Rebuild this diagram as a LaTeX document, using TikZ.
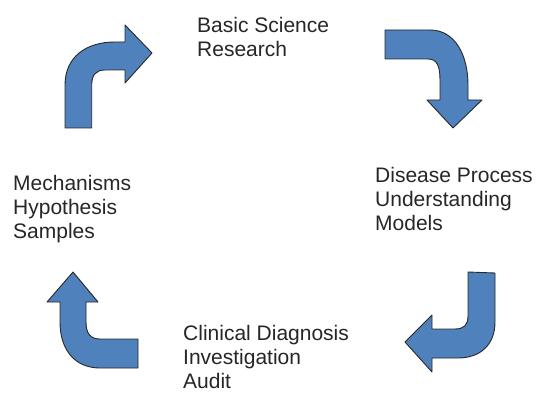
\documentclass[tikz,border=0pt]{standalone}
\usepackage{fontspec}
\setmainfont{Liberation Sans}
\definecolor{cycblue}{RGB}{79,129,189}
\definecolor{cycline}{RGB}{40,40,40}
\usetikzlibrary{positioning}

\begin{document}
\begin{tikzpicture}[x=1pt, y=-1pt,
    turnarrow/.style={fill=cycblue, draw=cycline, line width=0.9pt, line join=round},
    stage/.style={anchor=north west, inner sep=0pt, align=left, text=black!85,
                  font=\fontsize{21}{24}\selectfont}
  ]
    \useasboundingbox (0,0) rectangle (544,393);

    % Stage labels
    \node[stage] (science)   at (197,17)  {Basic Science\\Research};
    \node[stage] (disease)   at (375,167) {Disease Process\\Understanding\\Models};
    \node[stage] (clinical)  at (183,325) {Clinical Diagnosis\\Investigation\\Audit};
    \node[stage] (mechanism) at (13,175)  {Mechanisms\\Hypothesis\\Samples};

    % Curved arrows, turning clockwise round the cycle
    \draw[turnarrow] (65,128) -- (65,85) .. controls (65,57) and (86,42) .. (115,42)
      -- (125,42) -- (125,25) -- (152,53) -- (125,83) -- (125,70) -- (105,70)
      .. controls (96,70) and (91.7,75) .. (91.7,85) -- (91.7,128) -- cycle;

    \draw[turnarrow] (385,30) -- (430,30) .. controls (455,30) and (468,55) .. (468,85)
      -- (468,100) -- (482,100) -- (453,128) -- (427,100) -- (440,100) -- (440,80)
      .. controls (440,66) and (437,59) .. (428,59) -- (385,59) -- cycle;

    \draw[turnarrow] (468,272) -- (495,273) -- (495,322) .. controls (495,345) and (480,358) .. (458,358)
      -- (432,358) -- (432,372) -- (405,342) -- (432,315) -- (432,329) -- (455,329)
      .. controls (464,329) and (468,325) .. (468,316) -- cycle;

    \draw[turnarrow] (138,368) -- (100,368) .. controls (75,368) and (60,350) .. (60,322)
      -- (60,302) -- (47,302) -- (73,272) -- (98,302) -- (86,302) -- (86,322)
      .. controls (86,333) and (90,339) .. (100,339) -- (138,339) -- cycle;
\end{tikzpicture}
\end{document}
